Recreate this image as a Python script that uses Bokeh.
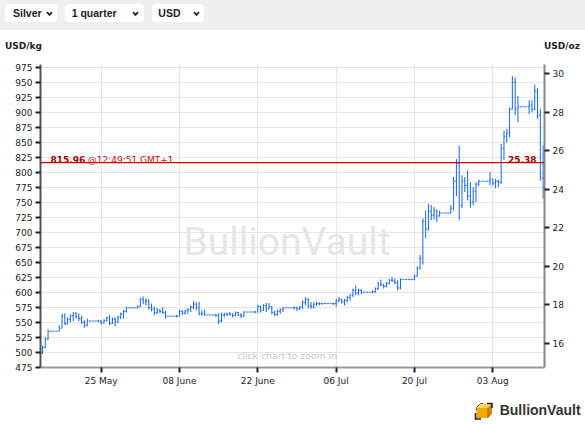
import pandas as pd
from bokeh.plotting import figure
from bokeh.models import (ColumnDataSource, Range1d, LinearAxis, FixedTicker,
                          Span, Label, Div, DatetimeTickFormatter)
from bokeh.layouts import column
from bokeh.embed import file_html
from bokeh.resources import INLINE

# ---------------- data (USD/kg, 12-hour bars) ----------------
START = "2020-05-14 12:00"
BAR_HOURS = 12

OPEN = [
    499, 508, 522, 535, 535, 535, 535,
    540, 560, 548, 555, 561, 564, 560, 556, 550, 545, 552, 552, 552, 552,
    552, 549, 553, 557, 548, 555, 550, 558, 564, 568, 574, 574, 574, 574,
    576, 588, 584, 586, 574, 572, 566, 570, 568, 566, 560, 560, 560, 560,
    560, 568, 565, 569, 571, 575, 580, 574, 565, 564, 562, 562, 562, 562,
    561, 552, 562, 563, 564, 563, 561, 566, 562, 560, 567, 567, 567, 567,
    567, 576, 570, 578, 572, 576, 566, 563, 568, 571, 574, 574, 574, 574,
    574, 572, 575, 583, 588, 578, 576, 580, 581, 581, 581, 581, 581, 581,
    581, 586, 588, 584, 586, 591, 595, 603, 599, 603, 600, 600, 600, 600,
    601, 606, 614, 612, 610, 615, 620, 619, 616, 607, 621, 621, 621, 621,
    621, 627, 640, 656, 718, 705, 735, 728, 736, 727, 732, 732, 732, 732,
    740, 785, 815, 745, 785, 778, 760, 750, 768, 780, 785, 785, 785, 785,
    788, 782, 785, 783, 840, 860, 865, 905, 950, 905, 909, 909, 909, 909,
    912, 905, 935, 895, 790,
]
HIGH = [
    511, 525, 538, 535, 535, 535, 545,
    564, 565, 558, 563, 567, 567, 565, 561, 553, 556, 552, 552, 552, 554,
    553, 555, 559, 562, 558, 558, 561, 566, 571, 576, 574, 574, 574, 578,
    591, 593, 590, 588, 581, 576, 574, 572, 575, 569, 560, 560, 560, 562,
    571, 570, 571, 573, 578, 585, 583, 584, 570, 571, 562, 562, 562, 564,
    565, 566, 566, 566, 567, 565, 568, 567, 565, 568, 567, 567, 567, 569,
    579, 578, 580, 582, 582, 577, 569, 571, 573, 575, 574, 574, 574, 576,
    576, 577, 586, 592, 590, 584, 583, 584, 583, 582, 581, 581, 581, 583,
    589, 592, 589, 589, 594, 597, 606, 611, 606, 605, 600, 600, 600, 603,
    608, 617, 621, 614, 617, 622, 625, 623, 620, 623, 621, 621, 621, 622,
    629, 643, 662, 723, 736, 747, 745, 742, 738, 736, 732, 732, 732, 745,
    792, 822, 844, 795, 792, 803, 783, 775, 783, 787, 785, 785, 785, 800,
    789, 789, 787, 847, 869, 872, 908, 960, 958, 927, 909, 909, 909, 920,
    920, 946, 940, 906, 845,
]
LOW = [
    497, 507, 520, 535, 535, 535, 535,
    540, 545, 546, 550, 552, 556, 552, 547, 541, 543, 552, 552, 552, 550,
    546, 548, 551, 545, 547, 543, 549, 555, 556, 566, 574, 574, 574, 573,
    575, 580, 578, 571, 568, 562, 564, 565, 564, 556, 560, 560, 560, 558,
    560, 562, 563, 564, 567, 572, 570, 561, 560, 561, 562, 562, 562, 559,
    547, 550, 558, 560, 561, 558, 560, 560, 557, 559, 567, 567, 567, 565,
    566, 566, 569, 567, 572, 563, 560, 561, 564, 567, 574, 574, 574, 571,
    569, 570, 572, 578, 573, 572, 573, 577, 578, 579, 581, 581, 581, 579,
    576, 583, 581, 578, 583, 586, 592, 595, 595, 597, 600, 600, 600, 598,
    599, 604, 610, 606, 608, 613, 617, 613, 603, 605, 621, 621, 621, 620,
    620, 626, 638, 646, 690, 703, 720, 721, 717, 726, 732, 732, 732, 731,
    736, 760, 720, 740, 767, 753, 741, 745, 750, 777, 785, 785, 785, 778,
    778, 773, 775, 781, 820, 850, 858, 905, 895, 883, 909, 909, 909, 897,
    900, 903, 889, 786, 756,
]
CLOSE = [
    508, 522, 535, 535, 535, 535, 540,
    560, 548, 555, 561, 564, 560, 556, 550, 545, 552, 552, 552, 552, 552,
    549, 553, 557, 548, 555, 550, 558, 564, 568, 574, 574, 574, 574, 576,
    588, 584, 586, 574, 572, 566, 570, 568, 566, 560, 560, 560, 560, 560,
    568, 565, 569, 571, 575, 580, 574, 565, 564, 562, 562, 562, 562, 561,
    552, 562, 563, 564, 563, 561, 566, 562, 560, 567, 567, 567, 567, 567,
    576, 570, 578, 572, 576, 566, 563, 568, 571, 574, 574, 574, 574, 574,
    572, 575, 583, 588, 578, 576, 580, 581, 581, 581, 581, 581, 581, 581,
    586, 588, 584, 586, 591, 595, 603, 599, 603, 600, 600, 600, 600, 601,
    606, 614, 612, 610, 615, 620, 619, 616, 607, 621, 621, 621, 621, 621,
    627, 640, 656, 718, 705, 735, 728, 736, 727, 732, 732, 732, 732, 740,
    785, 815, 745, 785, 778, 760, 750, 768, 780, 785, 785, 785, 785, 788,
    782, 785, 783, 840, 860, 865, 905, 950, 905, 909, 909, 909, 909, 912,
    905, 935, 895, 790, 815.96,
]

TICK_DATES = ["2020-05-25", "2020-06-08", "2020-06-22", "2020-07-06", "2020-07-20", "2020-08-03"]
TICK_LABELS = ["25 May", "08 June", "22 June", "06 Jul", "20 Jul", "03 Aug"]
KG_TICKS = [475, 500, 525, 550, 575, 600, 625, 650, 675, 700, 725, 750,
            775, 800, 825, 850, 875, 900, 925, 950, 975]
OZ_TICKS = [16, 18, 20, 22, 24, 26, 28, 30]
OZ_PER_KG = 32.1507466
LAST_PRICE = 815.96
LAST_TIME = "@12:49:51 GMT+1"
X_START, X_END = "2020-05-14 03:36", "2020-08-12 05:53"
Y_START, Y_END = 474.5, 979.5
SELECTORS = ["Silver", "1 quarter", "USD"]
UNIT_LEFT, UNIT_RIGHT = "USD/kg", "USD/oz"
BRAND = "BullionVault"

assert len(OPEN) == len(HIGH) == len(LOW) == len(CLOSE)

# ---------------- figure ----------------
BAR_COLOR = "#1463f3"
FONT = "DejaVu Sans"

times = pd.date_range(START, periods=len(CLOSE), freq=f"{BAR_HOURS}h")
half = pd.Timedelta(hours=4.5)
src = ColumnDataSource(dict(t=times, tl=times - half, tr=times + half,
                            o=OPEN, h=HIGH, l=LOW, c=CLOSE))

tick_ms = [pd.Timestamp(d).value / 1e6 for d in TICK_DATES]

p = figure(width=569, height=334, x_axis_type="datetime",
           x_range=Range1d(pd.Timestamp(X_START), pd.Timestamp(X_END)),
           y_range=Range1d(Y_START, Y_END),
           output_backend="svg", toolbar_location=None,
           min_border_left=40, min_border_right=25,
           min_border_top=8, min_border_bottom=23,
           background_fill_color="white", border_fill_color="white")
p.outline_line_color = None
p.title.visible = False

p.extra_y_ranges = {"oz": Range1d(Y_START / OZ_PER_KG, Y_END / OZ_PER_KG)}
rax = LinearAxis(y_range_name="oz", ticker=FixedTicker(ticks=OZ_TICKS))
p.add_layout(rax, "right")

lax = p.yaxis[0]
lax.ticker = FixedTicker(ticks=KG_TICKS)
bax = p.xaxis[0]
bax.ticker = FixedTicker(ticks=tick_ms)
bax.formatter = DatetimeTickFormatter(days="%d %b", months="%d %b")
bax.major_label_overrides = {ms: lab for ms, lab in zip(tick_ms, TICK_LABELS)}

for ax, col in ((lax, "#555555"), (rax, "#888888"), (bax, "#999999")):
    ax.axis_line_color = col
    ax.axis_line_width = 2
    ax.major_tick_line_color = "#222222"
    ax.major_tick_line_width = 2
    ax.major_tick_in = 0
    ax.major_tick_out = 5
    ax.minor_tick_line_color = None
    ax.major_label_text_font = FONT
    ax.major_label_text_font_size = "9px"
    ax.major_label_text_color = "#222222"
    ax.major_label_standoff = 3

p.xgrid.ticker = FixedTicker(ticks=tick_ms)
p.ygrid.ticker = FixedTicker(ticks=KG_TICKS)
p.xgrid.grid_line_color = "#e6e6e6"
p.ygrid.grid_line_color = "#e6e6e6"


def label(text, x, y, size, color, bold=False, align="left", font=FONT,
          level="annotation", y_units="screen", y_offset=0):
    p.add_layout(Label(x=x, y=y, x_units="screen", y_units=y_units,
                       y_offset=y_offset, text=text,
                       text_font=font, text_font_size=size, text_color=color,
                       text_font_style="bold" if bold else "normal",
                       text_align=align, text_baseline="alphabetic",
                       level=level))


# watermark and hint
label(BRAND, 246.5, 126, "39px", "#e6e6e6", align="center",
      font="Roboto", level="underlay")
label("click chart to zoom in", 196.7, 12.5, "9.3px", "#c6c6c6")

# OHLC bars
kw = dict(source=src, line_color=BAR_COLOR, line_width=1)
p.segment(x0="t", y0="l", x1="t", y1="h", **kw)
p.segment(x0="tl", y0="o", x1="t", y1="o", **kw)
p.segment(x0="t", y0="c", x1="tr", y1="c", **kw)

# last price line and labels
p.add_layout(Span(location=LAST_PRICE, dimension="width",
                  line_color="#d40000", line_width=1.2))
label(f"{LAST_PRICE:.2f}", 10, LAST_PRICE, "9px", "#a80000", bold=True,
      y_units="data", y_offset=3)
label(LAST_TIME, 47.3, LAST_PRICE, "9px", "#cc1111", y_units="data", y_offset=3)
label(f"{LAST_PRICE / OZ_PER_KG:.2f}", 496, LAST_PRICE, "9px", "#a80000",
      bold=True, align="right", y_units="data", y_offset=3)

# ---------------- top selector bar + unit titles ----------------
def selector(left, width, text, text_left, chev_left):
    return (
        f'<div style="position:absolute;left:{left}px;top:4px;width:{width}px;height:18px;'
        f'background:#ffffff;border-radius:4px;"></div>'
        f'<div style="position:absolute;left:{text_left}px;top:8.2px;font-weight:bold;'
        f'font-size:10.5px;line-height:11px;color:#222;white-space:nowrap;">{text}</div>'
        f'<svg style="position:absolute;left:{chev_left}px;top:11px;" width="7" height="6" '
        f'viewBox="0 0 7 6"><polyline points="1,1.2 3.5,3.9 6,1.2" fill="none" '
        f'stroke="#222" stroke-width="1.7"/></svg>'
    )


unit_style = ("position:absolute;top:41.2px;font-family:'DejaVu Sans',sans-serif;"
              "font-weight:bold;font-size:9px;line-height:10px;color:#222;white-space:nowrap;")
top_html = (
    '<div style="position:relative;width:569px;height:56px;overflow:visible;'
    "font-family:'Liberation Sans',Arial,sans-serif;\">"
    '<div style="position:absolute;left:0px;top:0px;width:585px;height:30px;'
    'background:#efefef;"></div>'
    + selector(5, 52, SELECTORS[0], 13, 46.3)
    + selector(65.3, 79, SELECTORS[1], 71.7, 131.7)
    + selector(152, 52, SELECTORS[2], 158.3, 193)
    + f'<div style="{unit_style}left:5px;">{UNIT_LEFT}</div>'
    + f'<div style="{unit_style}left:544px;">{UNIT_RIGHT}</div>'
    + "</div>"
)

logo_html = (
    '<div style="position:relative;width:569px;height:19px;overflow:visible;'
    "font-family:'Liberation Sans',Arial,sans-serif;\">"
    '<svg style="position:absolute;left:474px;top:11px;" width="20" height="19" viewBox="0 0 20 19">'
    '<polygon points="2.5,6.5 14,6.5 14,17 2.5,17" fill="#f5a800"/>'
    '<polygon points="2.5,6.5 6.5,2.5 18,2.5 14,6.5" fill="#ffd466"/>'
    '<polygon points="14,6.5 18,2.5 18,13 14,17" fill="#d98c00"/>'
    '<polyline points="2.5,9 2.5,6.5 6.5,2.5 9,2.5" fill="none" stroke="#6b5a3a" stroke-width="1"/>'
    '<polyline points="13,2.5 18,2.5 18,7" fill="none" stroke="#222" stroke-width="1.6"/>'
    '<polyline points="1.5,12 1.5,18 7,18" fill="none" stroke="#222" stroke-width="1.6"/>'
    '<polyline points="14,6.5 14,17" fill="none" stroke="#8a5a00" stroke-width="0.8"/>'
    '</svg>'
    '<div style="position:absolute;left:499.7px;top:12.7px;font-weight:bold;font-size:14px;'
    'line-height:14px;color:#333;white-space:nowrap;">' + BRAND + '</div>'
    "</div>"
)

top = Div(text=top_html, width=569, height=56, margin=0)
logo = Div(text=logo_html, width=569, height=19, margin=0)
layout = column(top, p, logo, spacing=0)

open("out.html", "w").write(file_html(layout, INLINE))
